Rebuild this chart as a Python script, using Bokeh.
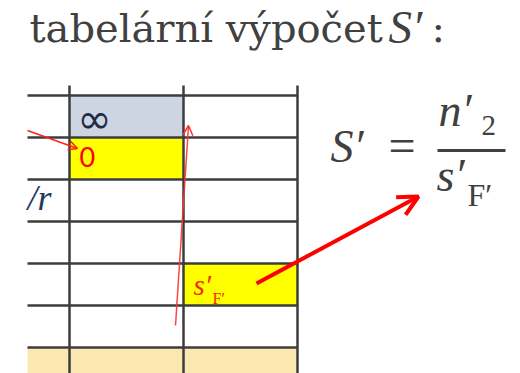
from bokeh.plotting import figure
from bokeh.models import Range1d, Arrow, OpenHead, ColumnDataSource
from bokeh.core.properties import value
from bokeh.embed import file_html
from bokeh.resources import INLINE

# ---- data ----
title_main = "tabelární výpočet"
title_sym = "S′"
title_colon = ":"

n_rows = 7                      # visible table rows (last one is the beige header of next block)
filled_rows = [0, 1, 4, 6, 6, 6]
filled_cols = [1, 1, 2, 0, 1, 2]
filled_colors = ["#CDD5E3", "#FFFF00", "#FFFF00", "#FAE8B0", "#FAE8B0", "#FAE8B0"]

cell_texts = ["∞", "0", "/r"]
cell_text_colors = ["#1F2A44", "#FF0000", "#1F3864"]

sf_text = "s′"
sf_sub = "F′"

formula_lhs = "S′"
formula_eq = "="
formula_num = "n′"
formula_num_sub = "2"
formula_den = "s′"
formula_den_sub = "F′"

# ---- layout ----
W, H = 520, 373
p = figure(width=W, height=H, x_range=Range1d(0, W), y_range=Range1d(H, 0),
           output_backend="svg", toolbar_location=None, min_border=0,
           x_axis_type=None, y_axis_type=None, outline_line_color=None)
p.grid.visible = False

top, row_h = 95, 42
left_clip, col0_right, col_w = 27, 69, 114
col_edges = [left_clip, col0_right, col0_right + col_w, col0_right + 2 * col_w]
bottom = H

K_LIB, K_DV, K_LATO = 0.38, 0.41, 0.40   # baseline correction (fraction of font size)


def row_top(r):
    return top + r * row_h


def txt(x, base, s, font, size, color, k, style="normal"):
    p.text(x=[x], y=[base - k * size], text=[s], text_font=value(font),
           text_font_style=style, text_font_size=f"{size}px", text_color=color,
           text_baseline="alphabetic")


# fills
qs = dict(left=[col_edges[c] for c in filled_cols],
          right=[col_edges[c + 1] for c in filled_cols],
          top=[row_top(r) for r in filled_rows],
          bottom=[min(row_top(r + 1), bottom + 20) for r in filled_rows],
          color=filled_colors)
p.quad(source=ColumnDataSource(qs), left="left", right="right", top="top", bottom="bottom",
       fill_color="color", line_color=None)

# grid lines
hy = [row_top(r) for r in range(n_rows)]
p.segment(x0=[left_clip] * len(hy), x1=[col_edges[-1]] * len(hy), y0=hy, y1=hy,
          line_color="#3C3C3C", line_width=2.5)
vx = col_edges[1:]
p.segment(x0=vx, x1=vx, y0=[85] * len(vx), y1=[bottom + 10] * len(vx),
          line_color="#3C3C3C", line_width=2.5)

# cell texts
txt(col_edges[1] + 8, row_top(0) + 40, cell_texts[0], "DejaVu Sans", 41, cell_text_colors[0], K_DV)
txt(col_edges[1] + 10, row_top(1) + 30, cell_texts[1], "Lato", 27, cell_text_colors[1], K_LATO)
txt(left_clip, row_top(2) + 32, cell_texts[2], "Liberation Serif", 36, cell_text_colors[2], K_LIB, "italic")

# s'F' in yellow cell
txt(col_edges[2] + 10, row_top(4) + 33, sf_text, "Liberation Serif", 29, "#F52A00", K_LIB, "italic")
txt(col_edges[2] + 29, row_top(4) + 41, sf_sub, "Liberation Serif", 16, "#F52A00", K_LIB)

# title
ink = "#404040"
txt(29, 44, title_main, "DejaVu Serif", 40, ink, K_DV)
txt(388, 44, title_sym, "Liberation Serif", 47, ink, K_LIB, "italic")
txt(431, 44, title_colon, "DejaVu Serif", 40, ink, K_DV)

# formula
txt(330, 163, formula_lhs, "Liberation Serif", 46, ink, K_LIB, "italic")
txt(388, 163, formula_eq, "Liberation Serif", 48, ink, K_LIB)
txt(438, 127, formula_num, "Liberation Serif", 46, ink, K_LIB, "italic")
txt(481, 136, formula_num_sub, "Liberation Serif", 29, ink, K_LIB)
p.segment(x0=[437], x1=[505], y0=[150], y1=[150], line_color=ink, line_width=3)
txt(436, 192, formula_den, "Liberation Serif", 46, ink, K_LIB, "italic")
txt(467, 207, formula_den_sub, "Liberation Serif", 32, ink, K_LIB)

# arrows
p.add_layout(Arrow(end=OpenHead(line_color="#FF2020", line_width=1.5, size=9),
                   x_start=27, y_start=130, x_end=77, y_end=148,
                   line_color="#FF2020", line_width=1.5))
p.add_layout(Arrow(end=OpenHead(line_color="#FF3030", line_width=1.5, size=10),
                   x_start=175, y_start=325, x_end=188, y_end=125,
                   line_color="#FF3030", line_width=1.5, line_alpha=0.9))
p.add_layout(Arrow(end=OpenHead(line_color="#FF0000", line_width=4, size=20),
                   x_start=256, y_start=283, x_end=418, y_end=196,
                   line_color="#FF0000", line_width=4))

open("out.html", "w").write(file_html(p, INLINE))
